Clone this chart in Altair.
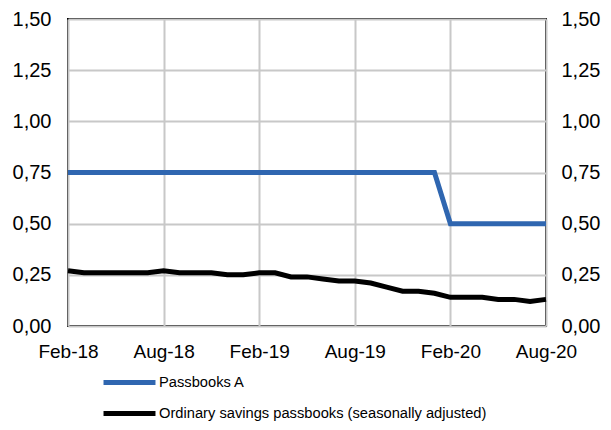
import altair as alt
import pandas as pd

months = [
    "Feb-18", "Mar-18", "Apr-18", "May-18", "Jun-18", "Jul-18", "Aug-18", "Sep-18", "Oct-18", "Nov-18", "Dec-18", "Jan-19",
    "Feb-19", "Mar-19", "Apr-19", "May-19", "Jun-19", "Jul-19", "Aug-19", "Sep-19", "Oct-19", "Nov-19", "Dec-19", "Jan-20",
    "Feb-20", "Mar-20", "Apr-20", "May-20", "Jun-20", "Jul-20", "Aug-20",
]
tick_labels = ["Feb-18", "Aug-18", "Feb-19", "Aug-19", "Feb-20", "Aug-20"]
series_names = ["Passbooks A", "Ordinary savings passbooks (seasonally adjusted)"]
passbooks_a = [0.75] * 24 + [0.50] * 7
ordinary = [
    0.27, 0.26, 0.26, 0.26, 0.26, 0.26, 0.27, 0.26, 0.26, 0.26, 0.25, 0.25,
    0.26, 0.26, 0.24, 0.24, 0.23, 0.22, 0.22, 0.21, 0.19, 0.17, 0.17, 0.16,
    0.14, 0.14, 0.14, 0.13, 0.13, 0.12, 0.13,
]
colors = ["#2F66B0", "#000000"]

rows = []
for name, vals in zip(series_names, [passbooks_a, ordinary]):
    for m, v in zip(months, vals):
        rows.append({"month": m, "value": v, "series": name})
df = pd.DataFrame(rows)

FONT = "Liberation Sans"
ylabel = "replace(format(datum.value, '.2f'), '.', ',')"
yvals = [0, 0.25, 0.5, 0.75, 1.0, 1.25, 1.5]

x_enc = alt.X(
    "month:O", sort=months, title=None,
    scale=alt.Scale(type="point", padding=0),
    axis=alt.Axis(values=tick_labels, labelAngle=0, ticks=False, domain=False,
                  grid=True, gridColor="#c8c8c8", gridWidth=2,
                  labelFont=FONT, labelFontSize=19, labelColor="black", labelPadding=16),
)
yscale = alt.Scale(domain=[0, 1.5], nice=False)
color_enc = alt.Color(
    "series:N", sort=series_names,
    scale=alt.Scale(domain=series_names, range=colors),
    legend=alt.Legend(
        title=None, orient="none", legendX=50, legendY=352, direction="vertical",
        padding=0, symbolType="M-3,0H3", symbolSize=300, symbolStrokeWidth=5,
        labelFont=FONT, labelFontSize=14.7, labelColor="black", rowPadding=9,
        labelOffset=18, labelLimit=500,
    ),
)

left = alt.Chart(df).mark_line(strokeWidth=5).encode(
    x=x_enc,
    y=alt.Y("value:Q", scale=yscale, title=None,
            axis=alt.Axis(values=yvals, labelExpr=ylabel,
                          ticks=False, domain=False, grid=True, gridColor="#c8c8c8", gridWidth=2,
                          labelFont=FONT, labelFontSize=20, labelColor="black", labelPadding=17)),
    color=color_enc,
)
right = alt.Chart(df).mark_line(strokeWidth=5, strokeOpacity=0).encode(
    x=x_enc,
    y=alt.Y("value:Q", scale=yscale, title=None,
            axis=alt.Axis(orient="right", values=yvals, labelExpr=ylabel,
                          ticks=False, domain=False, grid=False,
                          labelFont=FONT, labelFontSize=20, labelColor="black", labelPadding=15)),
    color=color_enc,
)

chart = alt.layer(right, left).resolve_scale(y="independent").properties(
    width=478, height=307,
    autosize=alt.AutoSizeParams(type="none"),
    padding={"left": 60, "top": 11, "right": 57, "bottom": 96},
).configure_view(stroke="black", strokeWidth=2)

chart.save("out.html", embed_options={"renderer": "svg", "actions": False})
